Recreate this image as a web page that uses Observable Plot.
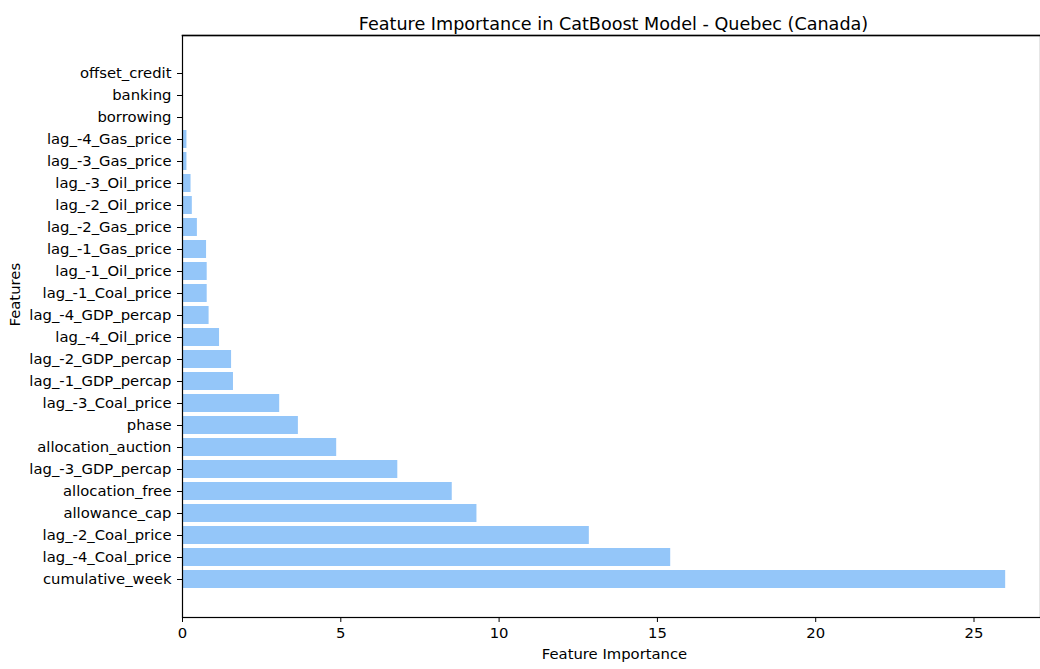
<!DOCTYPE html>
<html><head><meta charset="utf-8">
<script src="https://cdn.jsdelivr.net/npm/d3@7"></script>
<script src="https://cdn.jsdelivr.net/npm/@observablehq/plot@0.6"></script>
<style>body{margin:0;background:#fff;overflow:hidden}</style>
</head><body><div id="chart"></div>
<script>
const features = [
  "offset_credit","banking","borrowing","lag_-4_Gas_price","lag_-3_Gas_price",
  "lag_-3_Oil_price","lag_-2_Oil_price","lag_-2_Gas_price","lag_-1_Gas_price",
  "lag_-1_Oil_price","lag_-1_Coal_price","lag_-4_GDP_percap","lag_-4_Oil_price",
  "lag_-2_GDP_percap","lag_-1_GDP_percap","lag_-3_Coal_price","phase",
  "allocation_auction","lag_-3_GDP_percap","allocation_free","allowance_cap",
  "lag_-2_Coal_price","lag_-4_Coal_price","cumulative_week"
];
const importance = [
  0, 0, 0, 0.14, 0.14,
  0.27, 0.31, 0.47, 0.76,
  0.78, 0.78, 0.84, 1.17,
  1.55, 1.61, 3.07, 3.66,
  4.87, 6.80, 8.52, 9.30,
  12.85, 15.42, 26.0
];
const xTicks = [0, 5, 10, 15, 20, 25];
const titleText = "Feature Importance in CatBoost Model - Quebec (Canada)";
const xLabel = "Feature Importance";
const yLabel = "Features";

const data = features.map((f, i) => ({feature: f, value: importance[i]}));

const chart = Plot.plot({
  width: 1040, height: 669,
  marginLeft: 182, marginRight: 0, marginTop: 35, marginBottom: 52,
  style: {fontFamily: "'DejaVu Sans', sans-serif", fontSize: "14.8px", color: "black", background: "white"},
  x: {domain: [0, 27.1], ticks: xTicks, tickSize: 5, tickPadding: 5, label: null},
  y: {domain: features, paddingInner: 0.2, paddingOuter: 1.15, tickSize: 5, tickPadding: 6, label: null},
  marks: [
    Plot.barX(data, {x: "value", y: "feature", fill: "#94c6f9"}),
    Plot.frame({stroke: "black", strokeWidth: 1.2}),
    Plot.frame({anchor: "top", stroke: "black", strokeWidth: 1.6, insetRight: -10}),
    Plot.text([titleText], {text: d => d, frameAnchor: "top", dy: -18, dx: 2, fontSize: 17.6, fill: "black"}),
    Plot.text([xLabel], {text: d => d, frameAnchor: "bottom", dy: 41, dx: 3, fontSize: 14.8, fill: "black"}),
    Plot.text([yLabel], {text: d => d, frameAnchor: "left", dx: -167, rotate: -90, fontSize: 14.8, fill: "black"})
  ]
});
document.getElementById("chart").appendChild(chart);
</script>
</body></html>
